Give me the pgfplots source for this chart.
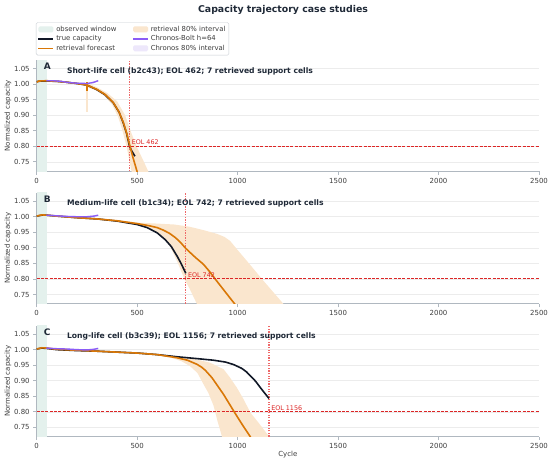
\documentclass[border=0pt]{standalone}
\usepackage{fontspec}
\setmainfont{DejaVu Sans}
\usepackage{pgfplots}
\pgfplotsset{compat=1.18}

\definecolor{cOrange}{RGB}{217,119,6}
\definecolor{cBlack}{RGB}{17,24,39}
\definecolor{cPurple}{RGB}{139,92,246}
\definecolor{cRed}{RGB}{220,38,38}
\definecolor{cRedV}{RGB}{238,105,105}
\definecolor{cBand}{RGB}{250,230,206}
\definecolor{cBandEdge}{RGB}{248,226,200}
\definecolor{cObs}{RGB}{228,241,237}
\definecolor{cChron}{RGB}{237,231,251}
\definecolor{cGrid}{RGB}{236,236,236}
\definecolor{cSpine}{RGB}{176,184,192}
\definecolor{cText}{RGB}{60,60,60}
\definecolor{cTitle}{RGB}{31,41,55}

\pgfplotsset{
  lineleg/.style={legend image code/.code={\draw[##1] (0bp,0bp) -- (15bp,0bp);}},
  patchleg/.style={legend image code/.code={\fill[##1,draw=none] (0bp,-3bp) rectangle (15bp,3bp);}},
  panel/.style={
    scale only axis, width=502.3bp, height=111bp,
    xmin=0, xmax=2500, ymin=0.72, ymax=1.077,
    axis x line*=bottom, axis y line*=left,
    axis line style={cSpine, line width=0.8bp, -},
    xtick={0,500,1000,1500,2000,2500},
    ytick={0.75,0.8,0.85,0.9,0.95,1,1.05},
    ymajorgrids, grid style={cGrid, line width=0.6bp},
    tick align=outside, major tick length=3.5bp,
    tick style={cSpine, line width=0.8bp},
    ticklabel style={font=\fontsize{7}{8}\selectfont, text=cText},
    /pgf/number format/assume math mode=true,
    xticklabel style={/pgf/number format/1000 sep={}},
    yticklabel style={/pgf/number format/.cd, fixed, fixed zerofill, precision=2},
    ylabel={Normalized capacity},
    ylabel style={font=\fontsize{7}{8}\selectfont, text=cText, at={(axis description cs:-0.0571,0.5)}, anchor=center},
    line join=round,
  },
  truec/.style={cBlack, line width=1.6bp, forget plot},
  fcst/.style={cOrange, line width=1.6bp, forget plot},
  chron/.style={cPurple, line width=1.4bp, forget plot},
  band/.style={fill=cBand, draw=none, forget plot},
  cband/.style={fill=cChron, draw=none, forget plot},
  obs/.style={fill=cObs, draw=none, forget plot},
  eolh/.style={draw=cRed, line width=1bp, dash pattern=on 3bp off 1.3bp, forget plot},
  eolv/.style={draw=cRedV, line width=1.3bp, dash pattern=on 1.3bp off 1.3bp, forget plot},
}
\newcommand{\eolfont}{\fontsize{6.4}{7}\selectfont}
\newcommand{\subfont}{\bfseries\fontsize{7.65}{9}\selectfont}
\newcommand{\letfont}{\bfseries\fontsize{9}{10}\selectfont}

\begin{document}
\begin{tikzpicture}
\useasboundingbox (0,0) rectangle (550bp,463bp);
\node[font=\bfseries\fontsize{9.4}{11}\selectfont, text=cTitle] at (283bp,453bp) {Capacity trajectory case studies};

% ---------------- Panel A ----------------
\begin{axis}[panel, at={(36.7bp,291.8bp)}, anchor=south west,
  legend columns=2, legend cell align=left,
  legend style={at={(axis description cs:0,1)}, anchor=south west, xshift=-0.7bp, yshift=4.8bp,
    draw=cSpine!70, rounded corners=1.5bp, fill=white, text=cText,
    font=\fontsize{6.9}{8}\selectfont, inner sep=1.5bp,
    /tikz/every even column/.append style={column sep=14bp}, row sep=-1.2bp}]
\addlegendimage{patchleg, fill=cObs, draw=none}\addlegendentry{observed window}
\addlegendimage{patchleg, fill=cBand, draw=none}\addlegendentry{retrieval 80\% interval}
\addlegendimage{lineleg, cBlack, line width=1.6bp}\addlegendentry{true capacity}
\addlegendimage{lineleg, cPurple, line width=1.4bp}\addlegendentry{Chronos-Bolt h=64}
\addlegendimage{lineleg, cOrange, line width=1.6bp}\addlegendentry{retrieval forecast}
\addlegendimage{patchleg, fill=cChron, draw=none}\addlegendentry{Chronos 80\% interval}

\addplot[obs] coordinates {(0,0.70) (50,0.70) (50,1.10) (0,1.10)} -- cycle;
\addplot[band] coordinates {(250,1.004) (300,0.99) (350,0.972) (400,0.945) (440,0.90) (470,0.845) (497,0.80) (530,0.755) (555,0.72) (570,0.70)
  (478,0.70) (472,0.72) (447,0.80) (425,0.855) (405,0.895) (375,0.935) (335,0.963) (290,0.982) (250,0.99)} -- cycle;
\addplot[band] coordinates {(247,0.91) (253,0.91) (253,1.0) (247,1.0)} -- cycle;
\addplot[cband] coordinates {(48,1.013) (120,1.011) (200,1.005) (250,1.004) (306,1.013) (306,1.009) (250,1.000) (200,1.001) (120,1.007) (48,1.009)} -- cycle;
\addplot[eolv] coordinates {(462,0.72) (462,1.077)};
\addplot[truec] coordinates {(0,1.008) (20,1.010) (50,1.010) (100,1.009) (150,1.006) (200,1.002) (250,0.997) (300,0.982) (340,0.966) (381,0.94) (410,0.91) (431,0.875) (448,0.84) (462,0.80) (475,0.783) (489,0.768)};
\addplot[fcst] coordinates {(0,1.006) (10,1.010) (50,1.011) (100,1.009) (150,1.006) (200,1.002) (250,0.997) (300,0.983) (340,0.967) (381,0.941) (410,0.91) (431,0.877) (448,0.842) (462,0.806) (480,0.762) (500,0.718) (510,0.695)};
\addplot[cOrange, line width=1.2bp, forget plot] coordinates {(250,0.978) (250,1.006)};
\addplot[chron] coordinates {(48,1.011) (80,1.011) (120,1.009) (160,1.005) (200,1.003) (250,1.002) (280,1.005) (306,1.011)};
\addplot[eolh] coordinates {(0,0.80) (2500,0.80)};
\node[anchor=south west, font=\eolfont, text=cRed, inner sep=0.5bp] at (axis cs:470,0.802) {EOL 462};
\node[font=\letfont, text=cTitle] at (rel axis cs:0.021,0.944) {A};
\node[anchor=west, font=\subfont, text=cTitle, inner sep=0pt] at (rel axis cs:0.06,0.9) {Short-life cell (b2c43); EOL 462; 7 retrieved support cells};
\end{axis}

% ---------------- Panel B ----------------
\begin{axis}[panel, at={(36.7bp,159.2bp)}, anchor=south west]
\addplot[obs] coordinates {(0,0.70) (50,0.70) (50,1.10) (0,1.10)} -- cycle;
\addplot[band] coordinates {(300,0.995) (400,0.989) (500,0.981) (600,0.978) (685,0.975) (760,0.968) (830,0.957) (897,0.945) (935,0.935) (963,0.922) (1000,0.893) (1046,0.858) (1130,0.793) (1221,0.725) (1240,0.71)
  (812,0.70) (797,0.72) (760,0.77) (735,0.80) (700,0.855) (664,0.905) (620,0.94) (547,0.966) (500,0.974) (400,0.985) (300,0.991)} -- cycle;
\addplot[cband] coordinates {(48,1.007) (100,1.005) (200,1.002) (250,1.002) (306,1.007) (306,1.003) (250,0.998) (200,0.998) (100,1.001) (48,1.003)} -- cycle;
\addplot[eolv] coordinates {(742,0.72) (742,1.077)};
\addplot[truec] coordinates {(0,1.002) (25,1.005) (50,1.005) (100,1.002) (200,0.997) (300,0.993) (400,0.986) (500,0.975) (550,0.965) (600,0.948) (640,0.926) (670,0.904) (700,0.872) (720,0.848) (742,0.818)};
\addplot[fcst] coordinates {(0,1.002) (25,1.006) (50,1.005) (100,1.002) (200,0.997) (300,0.993) (400,0.987) (500,0.978) (560,0.971) (600,0.965) (630,0.957) (660,0.947) (690,0.933) (715,0.918) (742,0.898) (765,0.884) (790,0.869) (830,0.847) (860,0.824) (888,0.80) (940,0.757) (985,0.72) (1000,0.707)};
\addplot[chron] coordinates {(48,1.005) (100,1.003) (150,1.001) (200,1.0) (250,1.0) (285,1.002) (306,1.005)};
\addplot[eolh] coordinates {(0,0.80) (2500,0.80)};
\node[anchor=south west, font=\eolfont, text=cRed, inner sep=0.5bp] at (axis cs:750,0.802) {EOL 742};
\node[font=\letfont, text=cTitle] at (rel axis cs:0.021,0.944) {B};
\node[anchor=west, font=\subfont, text=cTitle, inner sep=0pt] at (rel axis cs:0.06,0.9) {Medium-life cell (b1c34); EOL 742; 7 retrieved support cells};
\end{axis}

% ---------------- Panel C ----------------
\begin{axis}[panel, at={(36.7bp,26.3bp)}, anchor=south west,
  xlabel={Cycle}, xlabel style={font=\fontsize{7}{8}\selectfont, text=cText, at={(axis description cs:0.5,0)}, anchor=center, yshift=-18.3bp}]
\addplot[obs] coordinates {(0,0.70) (50,0.70) (50,1.10) (0,1.10)} -- cycle;
\addplot[band] coordinates {(300,0.997) (500,0.99) (700,0.978) (800,0.968) (863,0.958) (930,0.937) (960,0.912) (996,0.878) (1030,0.84) (1063,0.798) (1110,0.76) (1154,0.723) (1170,0.71)
  (930,0.70) (921,0.723) (900,0.77) (880,0.82) (855,0.86) (830,0.889) (800,0.925) (763,0.947) (720,0.963) (664,0.975) (600,0.982) (500,0.988) (300,0.993)} -- cycle;
\addplot[cband] coordinates {(48,1.007) (100,1.005) (200,1.002) (250,1.001) (306,1.006) (306,1.002) (250,0.997) (200,0.998) (100,1.001) (48,1.003)} -- cycle;
\addplot[eolv] coordinates {(1156,0.72) (1156,1.077)};
\addplot[truec] coordinates {(0,1.002) (25,1.005) (50,1.004) (100,1.0) (200,0.997) (300,0.995) (400,0.992) (500,0.989) (600,0.984) (700,0.977) (800,0.971) (880,0.966) (940,0.96) (980,0.952) (1020,0.94) (1045,0.928) (1063,0.916) (1090,0.898) (1113,0.878) (1135,0.86) (1156,0.843)};
\addplot[fcst] coordinates {(0,1.002) (25,1.006) (50,1.005) (100,1.001) (200,0.998) (300,0.995) (400,0.992) (500,0.989) (600,0.984) (697,0.974) (750,0.966) (797,0.953) (820,0.944) (840,0.933) (872,0.91) (900,0.884) (930,0.856) (983,0.80) (1020,0.762) (1063,0.72) (1080,0.70)};
\addplot[chron] coordinates {(48,1.005) (100,1.003) (150,1.002) (200,1.0) (250,0.999) (285,1.001) (306,1.004)};
\addplot[eolh] coordinates {(0,0.80) (2500,0.80)};
\node[anchor=south west, font=\eolfont, text=cRed, inner sep=0.5bp] at (axis cs:1164,0.802) {EOL 1156};
\node[font=\letfont, text=cTitle] at (rel axis cs:0.021,0.944) {C};
\node[anchor=west, font=\subfont, text=cTitle, inner sep=0pt] at (rel axis cs:0.06,0.9) {Long-life cell (b3c39); EOL 1156; 7 retrieved support cells};
\end{axis}
\end{tikzpicture}
\end{document}
